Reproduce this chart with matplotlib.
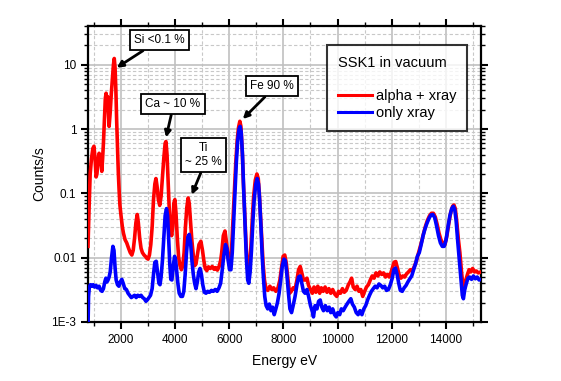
import matplotlib
matplotlib.use("Agg")
import matplotlib.pyplot as plt
from matplotlib.ticker import FixedLocator, FixedFormatter, LogLocator, NullFormatter

plt.rcParams['font.family'] = ['Liberation Sans', 'DejaVu Sans']

# ---------------- data ----------------
energy_red = [780, 820, 860, 910, 960, 1000, 1040, 1080, 1110, 1150, 1190, 1220, 1260, 1290, 1320, 1350,
              1390, 1420, 1450, 1480, 1500, 1530, 1560, 1600, 1640, 1680, 1720, 1750, 1780, 1810, 1840,
              1870, 1900, 1930, 1960, 2000, 2050, 2090, 2150, 2210, 2280, 2340, 2400, 2450, 2500, 2550,
              2600, 2640, 2690, 2740, 2790, 2850, 2900, 2950, 3000, 3050, 3100, 3150, 3200, 3250, 3290,
              3330, 3380, 3430, 3480, 3530, 3580, 3630, 3660, 3700, 3740, 3780, 3820, 3870, 3910, 3950,
              3990, 4030, 4080, 4130, 4180, 4230, 4280, 4330, 4380, 4430, 4480, 4520, 4570, 4620, 4670,
              4720, 4770, 4820, 4880, 4950, 5010, 5060, 5110, 5170, 5230, 5300, 5370, 5440, 5500, 5560,
              5620, 5680, 5720, 5780, 5840, 5890, 5940, 5990, 6040, 6090, 6140, 6190, 6240, 6290, 6340,
              6390, 6430, 6480, 6520, 6570, 6620, 6670, 6710, 6750, 6800, 6850, 6900, 6960, 7020, 7070,
              7110, 7160, 7200, 7250, 7300, 7350, 7420, 7500, 7570, 7640, 7720, 7800, 7870, 7930, 7990,
              8050, 8110, 8170, 8230, 8290, 8360, 8430, 8500, 8560, 8620, 8680, 8740, 8800, 8870, 8930,
              9000, 9070, 9130, 9200, 9270, 9340, 9400, 9470, 9540, 9610, 9680, 9750, 9820, 9900, 9970,
              10040, 10110, 10180, 10250, 10320, 10400, 10460, 10520, 10580, 10650, 10720, 10790, 10860,
              10930, 11000, 11070, 11140, 11210, 11280, 11350, 11420, 11490, 11560, 11630, 11700, 11770,
              11840, 11910, 11970, 12030, 12090, 12150, 12210, 12270, 12340, 12410, 12480, 12550, 12620,
              12690, 12760, 12830, 12900, 12970, 13040, 13110, 13180, 13250, 13320, 13400, 13470, 13540,
              13610, 13680, 13750, 13820, 13900, 13970, 14040, 14110, 14180, 14250, 14300, 14350, 14400,
              14460, 14520, 14580, 14640, 14690, 14740, 14800, 14860, 14920, 14990, 15060, 15130, 15200,
              15300]
counts_red = [0.015, 0.06, 0.2, 0.35, 0.5, 0.54, 0.35, 0.18, 0.2, 0.32, 0.42, 0.38, 0.3, 0.22, 0.35, 0.6,
              1.5, 3.0, 3.6, 2.4, 3.2, 2.0, 1.1, 1.8, 3.5, 6.0, 10.0, 12.5, 9.0, 4.0, 1.3,
              0.5, 0.21, 0.11, 0.065, 0.045, 0.03, 0.024, 0.019, 0.017, 0.014, 0.012, 0.011, 0.013, 0.02, 0.035,
              0.047, 0.035, 0.02, 0.014, 0.012, 0.011, 0.0105, 0.0098, 0.0095, 0.011, 0.016, 0.03, 0.08, 0.14, 0.17,
              0.13, 0.08, 0.065, 0.09, 0.18, 0.35, 0.6, 0.64, 0.4, 0.16, 0.06, 0.03, 0.022, 0.03, 0.07,
              0.08, 0.05, 0.02, 0.01, 0.0075, 0.0065, 0.0075, 0.012, 0.03, 0.06, 0.085, 0.07, 0.035, 0.018, 0.011,
              0.0075, 0.008, 0.011, 0.016, 0.018, 0.013, 0.009, 0.0068, 0.0063, 0.0072, 0.0068, 0.0073, 0.0066, 0.007, 0.0064,
              0.0072, 0.009, 0.012, 0.022, 0.026, 0.018, 0.012, 0.008, 0.0075, 0.015, 0.04, 0.1, 0.3, 0.65, 1.05,
              1.32, 1.1, 0.45, 0.15, 0.05, 0.016, 0.007, 0.0052, 0.007, 0.015, 0.04, 0.09, 0.16, 0.2, 0.17,
              0.1, 0.04, 0.02, 0.008, 0.0045, 0.0034, 0.0031, 0.0036, 0.0032, 0.0034, 0.003, 0.0034, 0.0045, 0.007, 0.0105,
              0.011, 0.008, 0.0045, 0.0028, 0.003, 0.0034, 0.0032, 0.0045, 0.0065, 0.0073, 0.0058, 0.0045, 0.0045, 0.0048, 0.0037,
              0.0032, 0.0028, 0.0035, 0.0029, 0.0036, 0.0028, 0.0034, 0.003, 0.0035, 0.0029, 0.0033, 0.0028, 0.0032, 0.0027, 0.0025,
              0.003, 0.0028, 0.0033, 0.0029, 0.0031, 0.0038, 0.0042, 0.0048, 0.0035, 0.0032, 0.0036, 0.003, 0.0032,
              0.0025, 0.003, 0.0035, 0.0038, 0.0045, 0.0052, 0.0048, 0.0058, 0.0052, 0.006, 0.0055, 0.0058, 0.005,
              0.0055, 0.005, 0.0058, 0.007, 0.0085, 0.0087, 0.007, 0.0055, 0.0048, 0.0052, 0.005, 0.0056, 0.006,
              0.0065, 0.0062, 0.0072, 0.0085, 0.011, 0.014, 0.018, 0.024, 0.031, 0.038, 0.045, 0.049, 0.049,
              0.043, 0.033, 0.024, 0.019, 0.0165, 0.016, 0.022, 0.034, 0.05, 0.063, 0.066, 0.058, 0.038,
              0.02, 0.012, 0.006, 0.0035, 0.0033, 0.0045, 0.0055, 0.0065, 0.006, 0.0068, 0.006, 0.0062, 0.0058,
              0.006]

energy_blue = [780, 800, 830, 870, 920, 970, 1020, 1080, 1130, 1190, 1250, 1300, 1350, 1400, 1440, 1480,
               1520, 1560, 1600, 1650, 1700, 1740, 1780, 1820, 1870, 1920, 1970, 2030, 2080, 2140, 2200,
               2260, 2320, 2380, 2440, 2500, 2560, 2620, 2680, 2740, 2800, 2860, 2920, 2970, 3030, 3090,
               3150, 3200, 3250, 3300, 3350, 3400, 3440, 3480, 3530, 3580, 3630, 3680, 3720, 3760, 3800,
               3840, 3880, 3930, 3980, 4020, 4060, 4100, 4150, 4210, 4270, 4320, 4370, 4420, 4470, 4520,
               4570, 4620, 4670, 4720, 4770, 4820, 4870, 4920, 4970, 5020, 5080, 5140, 5200, 5270, 5340,
               5410, 5480, 5550, 5620, 5680, 5740, 5800, 5860, 5910, 5960, 6010, 6060, 6110, 6160, 6210,
               6260, 6310, 6360, 6400, 6440, 6490, 6530, 6580, 6630, 6680, 6720, 6770, 6820, 6870, 6920,
               6980, 7030, 7080, 7120, 7170, 7210, 7260, 7310, 7360, 7420, 7480, 7540, 7600, 7660, 7720,
               7780, 7840, 7900, 7960, 8020, 8070, 8120, 8180, 8240, 8300, 8360, 8430, 8500, 8560, 8620,
               8680, 8740, 8800, 8870, 8930, 9000, 9060, 9110, 9170, 9240, 9300, 9360, 9420, 9480, 9550,
               9620, 9690, 9750, 9820, 9890, 9950, 10010, 10080, 10140, 10210, 10280, 10350, 10420, 10490,
               10550, 10620, 10690, 10760, 10830, 10900, 10970, 11040, 11110, 11180, 11250, 11320, 11390,
               11460, 11530, 11600, 11670, 11740, 11810, 11880, 11950, 12020, 12080, 12140, 12200, 12260,
               12320, 12390, 12460, 12530, 12600, 12670, 12740, 12810, 12880, 12950, 13020, 13090, 13160,
               13230, 13300, 13380, 13450, 13520, 13590, 13660, 13730, 13800, 13870, 13940, 14010, 14080,
               14150, 14220, 14280, 14330, 14380, 14440, 14500, 14560, 14610, 14650, 14700, 14760, 14820,
               14880, 14950, 15020, 15090, 15160, 15230, 15300]
counts_blue = [0.0008, 0.0025, 0.0035, 0.0038, 0.0036, 0.0038, 0.0035, 0.0037, 0.0034, 0.0036, 0.0031, 0.003, 0.0033, 0.0042, 0.0048, 0.0042,
               0.0045, 0.005, 0.006, 0.01, 0.015, 0.013, 0.007, 0.0045, 0.0038, 0.0036, 0.0042, 0.0046, 0.004, 0.0033, 0.0032,
               0.0028, 0.0026, 0.0024, 0.0025, 0.0026, 0.0024, 0.0026, 0.0025, 0.0026, 0.0024, 0.0023, 0.0021, 0.0022, 0.0024, 0.0026,
               0.0033, 0.0055, 0.0085, 0.0088, 0.006, 0.004, 0.0038, 0.005, 0.009, 0.02, 0.045, 0.058, 0.045, 0.02, 0.008,
               0.0046, 0.0045, 0.0075, 0.0105, 0.009, 0.006, 0.004, 0.0028, 0.0025, 0.0025, 0.003, 0.0055, 0.012, 0.021, 0.023,
               0.017, 0.009, 0.0055, 0.004, 0.0033, 0.0042, 0.006, 0.0068, 0.0055, 0.0038, 0.0029, 0.0028, 0.003, 0.0029, 0.0031,
               0.003, 0.0032, 0.003, 0.0034, 0.004, 0.0065, 0.011, 0.016, 0.014, 0.009, 0.0065, 0.0065, 0.012, 0.035, 0.1,
               0.3, 0.65, 1.0, 1.1, 0.9, 0.38, 0.12, 0.035, 0.01, 0.0045, 0.004, 0.006, 0.013, 0.035, 0.08,
               0.14, 0.17, 0.14, 0.08, 0.03, 0.012, 0.005, 0.0025, 0.0018, 0.0016, 0.0019, 0.0015, 0.0017, 0.0013, 0.0016,
               0.002, 0.0028, 0.0045, 0.0075, 0.0095, 0.009, 0.006, 0.003, 0.0016, 0.0014, 0.0018, 0.0025, 0.0038, 0.005, 0.0052,
               0.004, 0.003, 0.0028, 0.0032, 0.0025, 0.0018, 0.0015, 0.0012, 0.0018, 0.0016, 0.0021, 0.0022, 0.0017, 0.0015, 0.0018,
               0.0015, 0.0017, 0.0014, 0.0016, 0.0013, 0.0012, 0.0014, 0.0013, 0.0016, 0.0015, 0.0017, 0.0019, 0.0021, 0.0023,
               0.0019, 0.0017, 0.0014, 0.0013, 0.0015, 0.0013, 0.0016, 0.0018, 0.0022, 0.0026, 0.003, 0.0033, 0.0036,
               0.0034, 0.0039, 0.0037, 0.0034, 0.0036, 0.0031, 0.0032, 0.0038, 0.0048, 0.0065, 0.0069, 0.0055, 0.004,
               0.0031, 0.003, 0.0034, 0.0037, 0.0042, 0.0047, 0.0052, 0.0065, 0.008, 0.0105, 0.012, 0.016, 0.022,
               0.028, 0.034, 0.041, 0.046, 0.047, 0.042, 0.031, 0.022, 0.017, 0.015, 0.015, 0.019, 0.03,
               0.045, 0.058, 0.063, 0.056, 0.038, 0.018, 0.009, 0.0045, 0.0026, 0.0023, 0.0032, 0.004, 0.0048,
               0.005, 0.0046, 0.0052, 0.0047, 0.005, 0.0045, 0.0046]

series_labels = ["alpha + xray", "only xray"]
legend_title = "SSK1 in vacuum"
x_ticks = [2000, 4000, 6000, 8000, 10000, 12000, 14000]
x_minor = [1000, 3000, 5000, 7000, 9000, 11000, 13000, 15000]
y_ticks = [1e-3, 1e-2, 1e-1, 1, 10]
y_tick_labels = ["1E-3", "0.01", "0.1", "1", "10"]

annotations = [
    ("Si <0.1 %", 1841, 9.0, (0.182, 0.953), 0.32),
    ("Ca ~ 10 %", 3663, 0.74, (0.216, 0.736), 0.49),
    ("Ti\n~ 25 %", 4613, 0.095, (0.293, 0.564), 0.49),
    ("Fe 90 %", 6498, 1.43, (0.468, 0.797), 0.45),
]

# ---------------- figure ----------------
fig = plt.figure(figsize=(5.61, 3.81), dpi=100)
ax = fig.add_axes([88 / 561, 1 - 322 / 381, 393 / 561, 296 / 381])

ax.set_yscale('log')
ax.set_xlim(780, 15300)
ax.set_ylim(1e-3, 40)

ax.plot(energy_red, counts_red, color='#ff0000', lw=2.6, label=series_labels[0], zorder=3)
ax.plot(energy_blue, counts_blue, color='#0000ff', lw=2.6, label=series_labels[1], zorder=4)

ax.xaxis.set_major_locator(FixedLocator(x_ticks))
ax.xaxis.set_minor_locator(FixedLocator(x_minor))
ax.yaxis.set_major_locator(FixedLocator(y_ticks))
ax.yaxis.set_major_formatter(FixedFormatter(y_tick_labels))
ax.yaxis.set_minor_locator(LogLocator(base=10, subs=range(2, 10)))
ax.yaxis.set_minor_formatter(NullFormatter())

ax.set_axisbelow(True)
ax.grid(which='major', color='#c0c0c0', lw=1.2, ls='-')
ax.grid(which='minor', color='#c8c8c8', lw=0.8, ls=(0, (3, 2)))

for s in ax.spines.values():
    s.set_linewidth(1.6)
ax.tick_params(which='both', direction='out', top=True, right=True,
               labeltop=False, labelright=False, labelsize=8.5, colors='black')
ax.tick_params(which='major', length=5, width=1.5)
ax.tick_params(which='minor', length=3, width=1.0)

ax.set_xlabel("Energy eV", fontsize=10, labelpad=6)
ax.set_ylabel("Counts/s", fontsize=10, labelpad=4)

for text, ex, ey, pos, rx in annotations:
    ax.annotate(text, xy=(ex, ey), xycoords='data', xytext=pos, textcoords='axes fraction',
                ha='center', va='center', fontsize=8.5, multialignment='center',
                bbox=dict(boxstyle='square,pad=0.35', fc='white', ec='black', lw=1.3),
                arrowprops=dict(arrowstyle='-|>', color='black', lw=2.0, mutation_scale=9,
                                shrinkA=0, shrinkB=0, relpos=(rx, 0.0)),
                zorder=6)

leg = ax.legend(title=legend_title + "\n", loc='upper left', bbox_to_anchor=(0.608, 0.936),
                fontsize=10.5, title_fontsize=10.5, alignment='left', frameon=True, fancybox=False,
                edgecolor='black', handlelength=2.35, handletextpad=0.25, labelspacing=0.2,
                borderpad=0.75, borderaxespad=0)
leg.get_frame().set_linewidth(1.5)
for line in leg.get_lines():
    line.set_linewidth(2.2)
leg.set_zorder(7)

fig.savefig("out.png", dpi=100)
